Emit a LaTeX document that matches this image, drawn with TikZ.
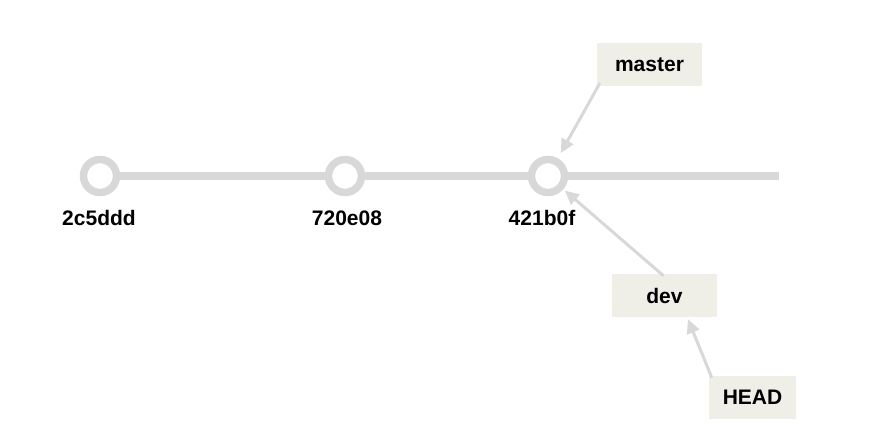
\documentclass[tikz,border=0pt]{standalone}
\usepackage{fontspec}
\setmainfont{Liberation Sans}
\usetikzlibrary{arrows.meta,calc}
\definecolor{gitline}{HTML}{D8D8D8}
\definecolor{boxfill}{HTML}{EFEEE7}
\tikzset{
  commit/.style={circle,draw=gitline,line width=7.5pt,fill=white,minimum size=33pt,inner sep=0pt},
  hashlabel/.style={font=\fontsize{21}{24}\selectfont\bfseries,inner sep=0pt},
  refbox/.style={fill=boxfill,minimum height=43pt,inner sep=0pt,font=\fontsize{21}{24}\selectfont\bfseries},
  refarrow/.style={draw=gitline,line width=3pt,-{Triangle[length=14pt,width=13pt]}},
  trunk/.style={draw=gitline,line width=7.5pt}
}
\begin{document}
\begin{tikzpicture}[x=1pt,y=1pt]
\useasboundingbox (0,0) rectangle (880,433);
\coordinate (tipend) at (779,257);
\draw[trunk] (100,257) -- (tipend);
\node[commit] (c1) at (100,257) {};
\node[commit] (c2) at (345,257) {};
\node[commit] (c3) at (548,257) {};
\node[hashlabel] (l1) at (99,215) {2c5ddd};
\node[hashlabel] (l2) at (347,215) {720e08};
\node[hashlabel] (l3) at (542,215) {421b0f};
\node[refbox,minimum width=105pt] (master) at (649.5,368.5) {\raisebox{-1.5pt}{master}};
\node[refbox,minimum width=105pt] (dev) at (664.5,137.5) {dev};
\node[refbox,minimum width=87pt] (head) at (752.5,35.5) {HEAD};
\coordinate (ms) at ($(master.south west)+(3,3)$);
\coordinate (ds) at ($(dev.north)+(-1,-2)$);
\coordinate (hs) at ($(head.north west)+(3,-2)$);
\coordinate (ht) at ($(dev.south)+(23.5,-2)$);
\draw[refarrow,shorten >=6pt] (ms) -- (c3);
\draw[refarrow,shorten >=2pt] (ds) -- (c3);
\draw[refarrow] (hs) -- (ht);
\end{tikzpicture}
\end{document}
